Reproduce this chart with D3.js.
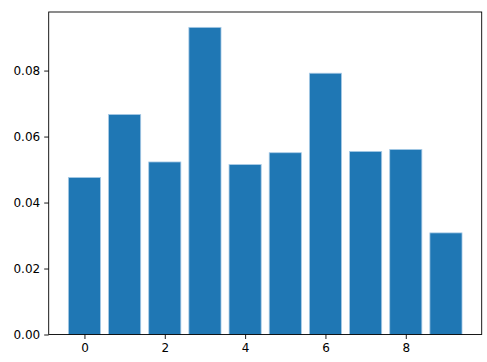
<!DOCTYPE html>
<html>
<head>
<meta charset="utf-8">
<script src="https://cdn.jsdelivr.net/npm/d3@7"></script>
<style>
  body { margin: 0; background: #fff; }
  svg { display: block; font-family: "DejaVu Sans", sans-serif; }
</style>
</head>
<body>
<svg id="drawing_region"></svg>
<script>
// bar positions and heights
var categories = [0, 1, 2, 3, 4, 5, 6, 7, 8, 9];
var values = [0.0476, 0.0667, 0.0523, 0.0931, 0.0515, 0.0551, 0.0792, 0.0555, 0.0561, 0.0308];
var xTicks = [0, 2, 4, 6, 8];
var yTicks = [0, 0.02, 0.04, 0.06, 0.08];

var width = 487, height = 362;
var margin = { left: 48.7, top: 12, right: 5.3, bottom: 27.5 };
var innerW = width - margin.left - margin.right;
var innerH = height - margin.top - margin.bottom;

var svg = d3.select('#drawing_region')
    .attr('width', width)
    .attr('height', height);

var chart = svg.append('g')
    .attr('transform', `translate(${margin.left}, ${margin.top})`);

var barWidth = 0.8;
var xMin = categories[0] - barWidth / 2, xMax = categories[categories.length - 1] + barWidth / 2;
var xPad = (xMax - xMin) * 0.05;
var x = d3.scaleLinear()
    .domain([xMin - xPad, xMax + xPad])
    .range([0, innerW]);

var yMax = d3.max(values) * 1.05;
var y = d3.scaleLinear()
    .domain([0, yMax])
    .range([innerH, 0]);

chart.selectAll('rect.bar')
    .data(categories)
    .enter()
    .append('rect')
    .attr('class', 'bar')
    .attr('x', d => x(d - barWidth / 2))
    .attr('width', d => x(d + barWidth / 2) - x(d - barWidth / 2))
    .attr('y', (d, i) => y(values[i]))
    .attr('height', (d, i) => innerH - y(values[i]))
    .attr('fill', '#1f77b4')
    .attr('stroke', '#a9cbe6')
    .attr('stroke-width', 0.8);

var xAxis = d3.axisBottom(x)
    .tickValues(xTicks)
    .tickFormat(d3.format('d'))
    .tickSize(4.5)
    .tickPadding(4);
var yAxis = d3.axisLeft(y)
    .tickValues(yTicks)
    .tickFormat(d3.format('.2f'))
    .tickSize(4.5)
    .tickPadding(4);

var gx = chart.append('g')
    .attr('transform', `translate(0, ${innerH})`)
    .call(xAxis);
var gy = chart.append('g').call(yAxis);

[gx, gy].forEach(g => {
  g.select('.domain').remove();
  g.selectAll('text')
      .attr('fill', '#000')
      .style('font-size', '12px')
      .style('font-family', '"DejaVu Sans", sans-serif');
  g.selectAll('line').attr('stroke', '#000').attr('stroke-width', 0.9);
});

// frame
chart.append('rect')
    .attr('x', 0)
    .attr('y', 0)
    .attr('width', innerW)
    .attr('height', innerH)
    .attr('fill', 'none')
    .attr('stroke', '#000')
    .attr('stroke-width', 0.9);
</script>
</body>
</html>
